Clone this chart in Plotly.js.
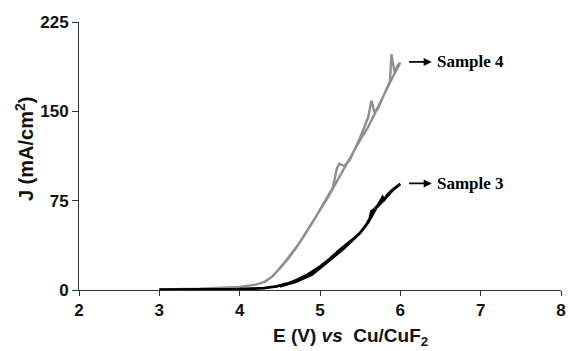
<!DOCTYPE html>
<html>
<head>
<meta charset="utf-8">
<script src="https://cdn.plot.ly/plotly-3.0.1.min.js"></script>
<style>html,body{margin:0;padding:0;background:#fff;}#chart{width:568px;height:351px;}</style>
</head>
<body>
<div id="chart"></div>
<script>
// Sample 4 (gray) – forward sweep then return sweep
const s4_E = [3.0, 3.5, 4.0, 4.2, 4.3, 4.42, 4.58, 4.75, 4.91, 5.08, 5.16, 5.21, 5.24, 5.3, 5.37, 5.5, 5.6, 5.64, 5.68, 5.72, 5.8, 5.87, 5.89, 5.93, 5.96, 6.0,
              5.9, 5.8, 5.7, 5.6, 5.5, 5.4, 5.3, 5.2, 5.1, 5.0, 4.9, 4.8, 4.7, 4.6, 4.5, 4.4, 4.3];
const s4_J = [0.5, 1.0, 2.5, 4.5, 6.5, 12, 25, 40, 57, 76, 86, 102, 106, 104, 109, 128, 145, 159, 149, 152, 165, 175, 198, 182, 188, 191,
              178, 164, 150, 137, 126, 114, 101, 89, 78, 67, 56, 45, 35, 26, 18, 11, 6];

// Sample 3 (black)
const s3_E = [3.0, 3.5, 4.0, 4.3, 4.46, 4.6, 4.71, 4.85, 5.0, 5.12, 5.25, 5.4, 5.5, 5.58, 5.62, 5.64, 5.68, 5.72, 5.76, 5.78, 5.8, 5.84, 5.9, 5.96, 6.0,
              5.9, 5.8, 5.7, 5.6, 5.5, 5.3, 5.1, 4.9, 4.7, 4.5];
const s3_J = [0.3, 0.5, 0.8, 1.5, 3.0, 5.5, 8.4, 13, 19.6, 26, 34, 42, 48, 55, 60, 66, 68, 71, 75, 78, 76, 80, 84, 87, 89,
              83.5, 76, 69, 57, 48, 35, 24, 13, 7, 3];

const xTicks = [2, 3, 4, 5, 6, 7, 8];
const yTicks = [0, 75, 150, 225];
const labels = ["Sample 4", "Sample 3"];
const labelJ = [191.5, 89.5];
const xTitle = 'E (V) <i>vs</i>  Cu/CuF<sub>2</sub>';
const yTitle = 'J (mA/cm<sup>2</sup>)';

const traces = [
  {x: s4_E, y: s4_J, mode: 'lines', line: {color: '#8f8f8f', width: 2.4}, hoverinfo: 'skip'},
  {x: s3_E, y: s3_J, mode: 'lines', line: {color: '#000000', width: 2.8}, hoverinfo: 'skip'}
];

const titleFont = {family: 'Liberation Sans, Arial, sans-serif', size: 20, color: '#111', weight: 'bold'};
const annotations = [
  {xref: 'paper', yref: 'paper', x: 0.564, y: -0.177, xanchor: 'center', yanchor: 'middle', showarrow: false,
   text: xTitle, font: {family: 'Liberation Sans, Arial, sans-serif', size: 19, color: '#111', weight: 'bold'}},
  {xref: 'paper', yref: 'paper', x: -0.114, y: 0.526, xanchor: 'center', yanchor: 'middle', showarrow: false,
   textangle: -90, text: yTitle, font: titleFont}
];
labels.forEach((t, i) => {
  annotations.push({x: 6.39, y: labelJ[i], ax: 6.09, ay: labelJ[i], xref: 'x', yref: 'y', axref: 'x', ayref: 'y',
    text: '', showarrow: true, arrowhead: 2, arrowsize: 1, arrowwidth: 1.6, arrowcolor: '#000', standoff: 0, startstandoff: 0});
  annotations.push({x: 6.43, y: labelJ[i], xref: 'x', yref: 'y', xanchor: 'left', yanchor: 'middle', showarrow: false,
    text: t, font: {family: 'Liberation Serif, Times New Roman, serif', size: 17, color: '#000', weight: 'bold'}});
});

const layout = {
  width: 568, height: 351,
  margin: {l: 79, r: 7, t: 22, b: 61},
  paper_bgcolor: '#fff', plot_bgcolor: '#fff',
  showlegend: false,
  font: {family: 'Liberation Sans, Arial, sans-serif', color: '#111'},
  xaxis: {
    range: [2, 8], tickvals: xTicks, ticktext: xTicks.map(v => '<b>' + v + '</b>'),
    showgrid: false, zeroline: false, showline: true, linecolor: '#333', linewidth: 1,
    ticks: 'outside', ticklen: 5, tickcolor: '#333', tickfont: {size: 17, color: '#111', weight: 'bold'}
  },
  yaxis: {
    range: [0, 225], tickvals: yTicks, ticktext: yTicks.map(v => '<b>' + v + '</b>'),
    showgrid: false, zeroline: false, showline: true, linecolor: '#333', linewidth: 1,
    ticks: 'outside', ticklen: 6, tickcolor: '#333', tickfont: {size: 17, color: '#111', weight: 'bold'}
  },
  annotations: annotations
};

Plotly.newPlot('chart', traces, layout, {staticPlot: true, displayModeBar: false});
</script>
</body>
</html>
